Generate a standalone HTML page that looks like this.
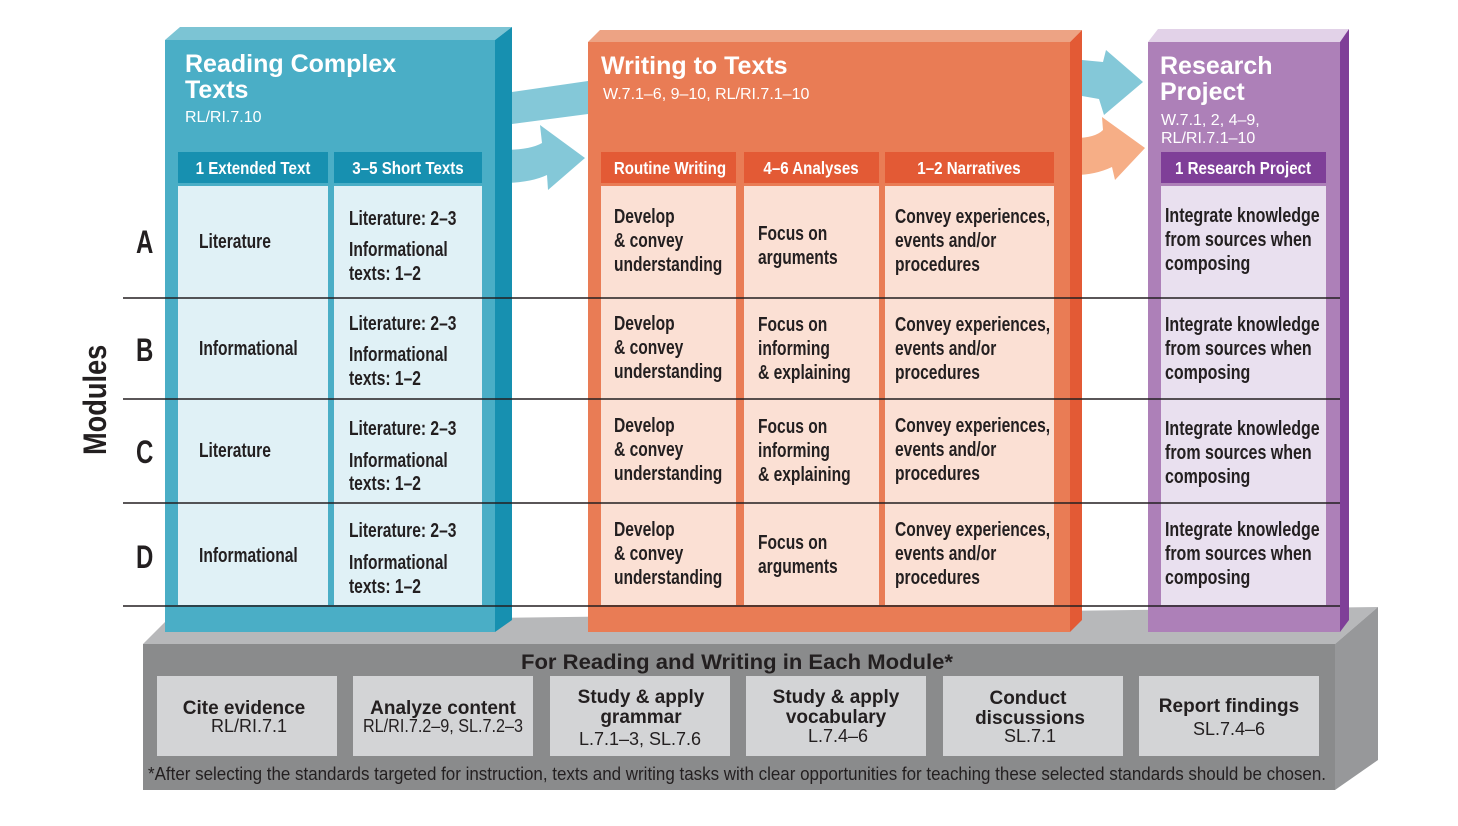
<!DOCTYPE html>
<html><head><meta charset="utf-8"><style>
html,body{margin:0;padding:0;background:#fff;}
svg{display:block;}
.n{font-family:"Liberation Sans Narrow","Liberation Sans",sans-serif;font-weight:bold;}
.c{font-size:20px;fill:#231f20;}
.h{font-size:18px;fill:#fff;}
.t{font-family:"Liberation Sans",sans-serif;font-weight:bold;fill:#fff;font-size:25px;}
.s{font-family:"Liberation Sans",sans-serif;fill:#fff;font-size:16px;}
.b{font-family:"Liberation Sans Narrow","Liberation Sans",sans-serif;fill:#231f20;font-size:18px;}
</style></head><body>
<svg width="1458" height="826" viewBox="0 0 1458 826" xmlns="http://www.w3.org/2000/svg">
<polygon points="143,644 165,622 1378,607 1335,644" fill="#b7b8ba"/>
<rect x="143" y="644" width="1192" height="146" fill="#8a8b8c"/>
<polygon points="1335,644 1378,607 1378,760 1335,790" fill="#97989a"/>

<polygon points="512,92 588,81 588,114 512,124" fill="#84c8d8"/>
<path d="M502,150 Q530,150 542,143 L540,125 L585,158 L548,190 L547,175 Q530,183 502,183 Z" fill="#84c8d8"/>
<polygon points="1082,60 1103,62 1106,50 1143,82 1104,115 1099,99 1082,96" fill="#84c8d8"/>
<path d="M1075,138 Q1095,138 1103,130 L1102,117 L1145,148 L1115,180 L1112,167 Q1095,175 1075,175 Z" fill="#f6ae86"/>

<polygon points="165,40 180,27 512,27 495,40" fill="#7cc4d4"/>
<rect x="165" y="40" width="330" height="592" fill="#4aaec6"/>
<polygon points="495,40 512,27 512,620 495,632" fill="#1790b0"/>
<text class="t" x="185" y="72">Reading Complex</text>
<text class="t" x="185" y="98">Texts</text>
<text class="s" x="185" y="122">RL/RI.7.10</text>
<rect x="178" y="152" width="150" height="31" fill="#1790b0"/>
<rect x="334" y="152" width="148" height="31" fill="#1790b0"/>
<g transform="matrix(0.84,0,0,1,40.5,0)"><text class="n h" x="253" y="174" text-anchor="middle">1 Extended Text</text></g>
<g transform="matrix(0.84,0,0,1,65.3,0)"><text class="n h" x="408" y="174" text-anchor="middle">3–5 Short Texts</text></g>
<rect x="178" y="186" width="150" height="419" fill="#e0f1f6"/>
<rect x="334" y="186" width="148" height="419" fill="#e0f1f6"/>

<polygon points="588,42 600,30 1082,30 1070,42" fill="#eda384"/>
<rect x="588" y="42" width="482" height="590" fill="#e97c55"/>
<polygon points="1070,42 1082,30 1082,620 1070,632" fill="#e35a35"/>
<text class="t" x="601" y="74">Writing to Texts</text>
<text class="s" x="603" y="99">W.7.1–6, 9–10, RL/RI.7.1–10</text>
<rect x="601" y="152" width="135" height="31" fill="#e35a35"/>
<rect x="744" y="152" width="135" height="31" fill="#e35a35"/>
<rect x="885" y="152" width="169" height="31" fill="#e35a35"/>
<g transform="matrix(0.84,0,0,1,107.2,0)"><text class="n h" x="670" y="174" text-anchor="middle">Routine Writing</text></g>
<g transform="matrix(0.84,0,0,1,129.8,0)"><text class="n h" x="811" y="174" text-anchor="middle">4–6 Analyses</text></g>
<g transform="matrix(0.84,0,0,1,155,0)"><text class="n h" x="969" y="174" text-anchor="middle">1–2 Narratives</text></g>
<rect x="601" y="186" width="135" height="419" fill="#fbe0d4"/>
<rect x="744" y="186" width="135" height="419" fill="#fbe0d4"/>
<rect x="885" y="186" width="169" height="419" fill="#fbe0d4"/>

<polygon points="1148,42 1158,29 1349,29 1340,42" fill="#e2d2e8"/>
<rect x="1148" y="42" width="192" height="590" fill="#ad80b8"/>
<polygon points="1340,42 1349,29 1349,620 1340,632" fill="#7f3f98"/>
<text class="t" x="1160" y="74">Research</text>
<text class="t" x="1160" y="100">Project</text>
<text class="s" x="1161" y="125">W.7.1, 2, 4–9,</text>
<text class="s" x="1161" y="143">RL/RI.7.1–10</text>
<rect x="1161" y="152" width="165" height="31" fill="#7f3f98"/>
<g transform="matrix(0.84,0,0,1,198.9,0)"><text class="n h" x="1243" y="174" text-anchor="middle">1 Research Project</text></g>
<rect x="1161" y="186" width="165" height="419" fill="#e9e0ef"/>

<g stroke="#231f20" stroke-width="1.6">
<line x1="123" y1="298" x2="1340" y2="298"/>
<line x1="123" y1="399" x2="1340" y2="399"/>
<line x1="123" y1="503" x2="1340" y2="503"/>
<line x1="123" y1="606" x2="1340" y2="606"/>
</g>

<g transform="translate(106,455) scale(1,0.85)"><text class="n" font-size="32" fill="#231f20" transform="rotate(-90)">Modules</text></g>
<g class="n" font-size="32" fill="#231f20" transform="matrix(0.75,0,0,1,34,0)">
<text x="136" y="253">A</text><text x="136" y="361">B</text><text x="136" y="463">C</text><text x="136" y="568">D</text>
</g>

<g class="n c" transform="matrix(0.78,0,0,1,43.78,0)">
<text x="199" y="248">Literature</text>
<text x="199" y="355">Informational</text>
<text x="199" y="457">Literature</text>
<text x="199" y="562">Informational</text>
</g>
<g class="n c" transform="matrix(0.78,0,0,1,76.78,0)">
<text x="349" y="225">Literature: 2–3</text><text x="349" y="256">Informational</text><text x="349" y="280">texts: 1–2</text>
<text x="349" y="330">Literature: 2–3</text><text x="349" y="361">Informational</text><text x="349" y="385">texts: 1–2</text>
<text x="349" y="435">Literature: 2–3</text><text x="349" y="467">Informational</text><text x="349" y="490">texts: 1–2</text>
<text x="349" y="537">Literature: 2–3</text><text x="349" y="569">Informational</text><text x="349" y="593">texts: 1–2</text>
</g>
<g class="n c" transform="matrix(0.78,0,0,1,135.08,0)">
<text x="614" y="223">Develop</text><text x="614" y="247">&amp; convey</text><text x="614" y="271">understanding</text>
<text x="614" y="330">Develop</text><text x="614" y="354">&amp; convey</text><text x="614" y="378">understanding</text>
<text x="614" y="432">Develop</text><text x="614" y="456">&amp; convey</text><text x="614" y="480">understanding</text>
<text x="614" y="536">Develop</text><text x="614" y="560">&amp; convey</text><text x="614" y="584">understanding</text>
</g>
<g class="n c" transform="matrix(0.78,0,0,1,166.76,0)">
<text x="758" y="240">Focus on</text><text x="758" y="264">arguments</text>
<text x="758" y="331">Focus on</text><text x="758" y="355">informing</text><text x="758" y="379">&amp; explaining</text>
<text x="758" y="433">Focus on</text><text x="758" y="457">informing</text><text x="758" y="481">&amp; explaining</text>
<text x="758" y="549">Focus on</text><text x="758" y="573">arguments</text>
</g>
<g class="n c" transform="matrix(0.78,0,0,1,196.9,0)">
<text x="895" y="223">Convey experiences,</text><text x="895" y="247">events and/or</text><text x="895" y="271">procedures</text>
<text x="895" y="331">Convey experiences,</text><text x="895" y="355">events and/or</text><text x="895" y="379">procedures</text>
<text x="895" y="432">Convey experiences,</text><text x="895" y="456">events and/or</text><text x="895" y="480">procedures</text>
<text x="895" y="536">Convey experiences,</text><text x="895" y="560">events and/or</text><text x="895" y="584">procedures</text>
</g>
<g class="n c" transform="matrix(0.8,0,0,1,233,0)">
<text x="1165" y="222">Integrate knowledge</text><text x="1165" y="246">from sources when</text><text x="1165" y="270">composing</text>
<text x="1165" y="331">Integrate knowledge</text><text x="1165" y="355">from sources when</text><text x="1165" y="379">composing</text>
<text x="1165" y="435">Integrate knowledge</text><text x="1165" y="459">from sources when</text><text x="1165" y="483">composing</text>
<text x="1165" y="536">Integrate knowledge</text><text x="1165" y="560">from sources when</text><text x="1165" y="584">composing</text>
</g>

<text class="n" font-size="21" fill="#231f20" x="737" y="669" text-anchor="middle" textLength="432" lengthAdjust="spacingAndGlyphs">For Reading and Writing in Each Module*</text>
<g fill="#d3d4d6">
<rect x="157" y="676" width="180" height="80"/><rect x="353" y="676" width="180" height="80"/>
<rect x="550" y="676" width="180" height="80"/><rect x="746" y="676" width="180" height="80"/>
<rect x="943" y="676" width="180" height="80"/><rect x="1139" y="676" width="180" height="80"/>
</g>
<g class="n" font-size="19" fill="#231f20" text-anchor="middle">
<text x="244" y="714">Cite evidence</text>
<text x="443" y="714">Analyze content</text>
<text x="641" y="703">Study &amp; apply</text><text x="641" y="723">grammar</text>
<text x="836" y="703">Study &amp; apply</text><text x="836" y="723">vocabulary</text>
<text x="1028" y="704">Conduct</text><text x="1030" y="724">discussions</text>
<text x="1229" y="712">Report findings</text>
</g>
<g class="b" text-anchor="middle">
<text x="249" y="732">RL/RI.7.1</text>
<text x="443" y="732" textLength="160" lengthAdjust="spacingAndGlyphs">RL/RI.7.2–9, SL.7.2–3</text>
<text x="640" y="745">L.7.1–3, SL.7.6</text>
<text x="838" y="742">L.7.4–6</text>
<text x="1030" y="742">SL.7.1</text>
<text x="1229" y="735">SL.7.4–6</text>
</g>
<text class="b" x="148" y="780" font-size="16.5" textLength="1178" lengthAdjust="spacingAndGlyphs">*After selecting the standards targeted for instruction, texts and writing tasks with clear opportunities for teaching these selected standards should be chosen.</text>
</svg>
</body></html>
